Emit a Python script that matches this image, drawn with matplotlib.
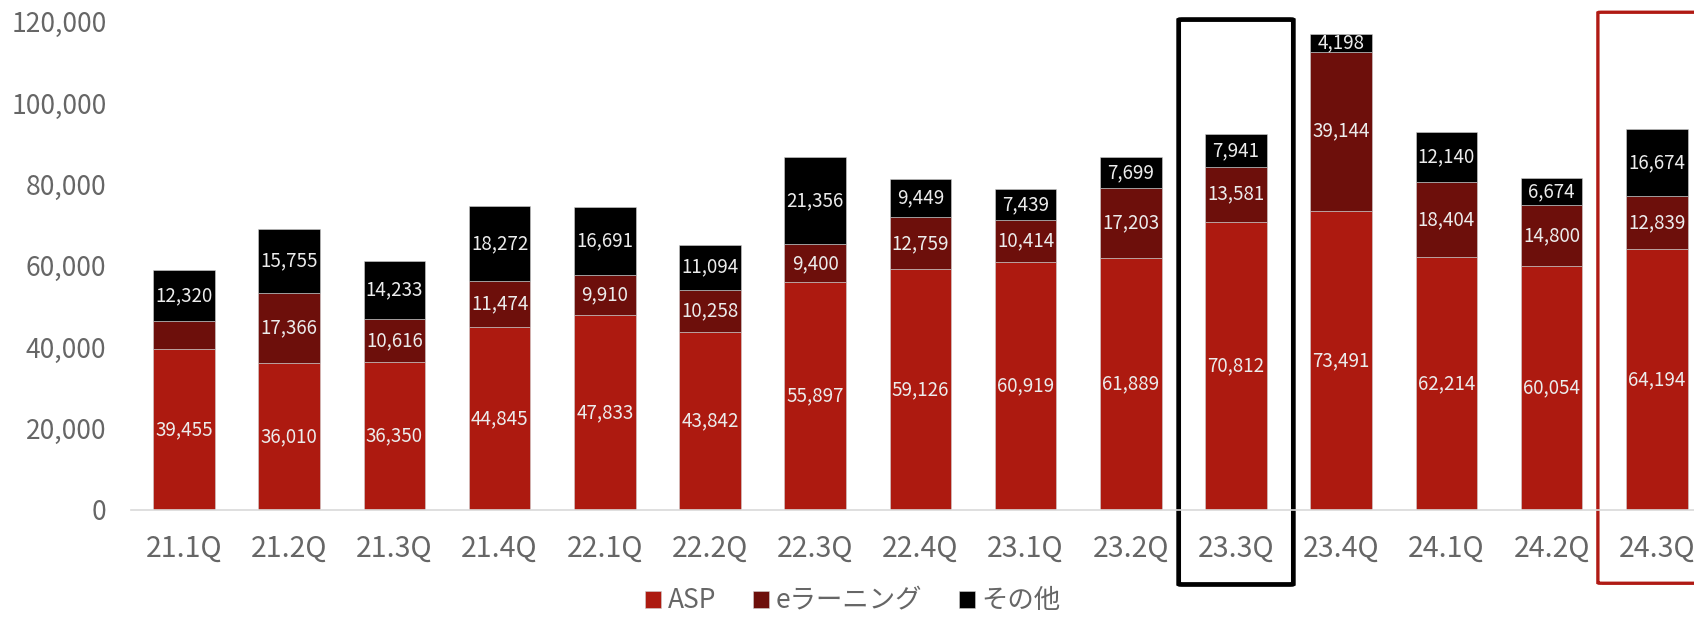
import matplotlib.pyplot as plt
from matplotlib.patches import FancyBboxPatch
from matplotlib.ticker import FuncFormatter
import numpy as np

plt.rcParams['font.family'] = ['Noto Sans CJK JP', 'DejaVu Sans']

quarters = ["21.1Q", "21.2Q", "21.3Q", "21.4Q", "22.1Q", "22.2Q", "22.3Q", "22.4Q",
            "23.1Q", "23.2Q", "23.3Q", "23.4Q", "24.1Q", "24.2Q", "24.3Q"]
asp = [39455, 36010, 36350, 44845, 47833, 43842, 55897, 59126,
       60919, 61889, 70812, 73491, 62214, 60054, 64194]
elearning = [7100, 17366, 10616, 11474, 9910, 10258, 9400, 12759,
             10414, 17203, 13581, 39144, 18404, 14800, 12839]
other = [12320, 15755, 14233, 18272, 16691, 11094, 21356, 9449,
         7439, 7699, 7941, 4198, 12140, 6674, 16674]
# the first e-learning segment carries no value label
elearning_show = [False] + [True] * 14

series = [("ASP", asp, "#ad1a10", [True] * 15),
          ("eラーニング", elearning, "#6d0f0b", elearning_show),
          ("その他", other, "#000000", [True] * 15)]

W, H = 1694, 617
fig = plt.figure(figsize=(W / 100, H / 100), dpi=100)
ax = fig.add_axes([131.4 / W, 1 - 510 / H, 15 * 105.2 / W, (510 - 21.6) / H])

x = np.arange(len(quarters))
bottom = np.zeros(len(quarters))
handles = []
for name, vals, color, show in series:
    vals = np.array(vals, dtype=float)
    bars = ax.bar(x, vals, 0.585, bottom=bottom, color=color,
                  edgecolor="#cfcfcf", linewidth=0.4, label=name)
    handles.append(bars)
    for xi, b, v, s in zip(x, bottom, vals, show):
        if s:
            ax.text(xi, b + v / 2, f"{int(v):,}", ha="center", va="center",
                    fontsize=13.5, color="#ececec")
    bottom += vals

ax.set_xlim(-0.5, 14.5)
ax.set_ylim(0, 120000)
ax.set_yticks(np.arange(0, 120001, 20000))
ax.yaxis.set_major_formatter(FuncFormatter(lambda v, p: f"{int(v):,}"))
ax.set_xticks(x)
ax.set_xticklabels(quarters)
ax.tick_params(axis="both", length=0, labelcolor="#666666")
ax.tick_params(axis="x", pad=17, labelsize=20.5)
ax.tick_params(axis="y", pad=18, labelsize=19)
for sp in ["top", "right", "left"]:
    ax.spines[sp].set_visible(False)
ax.spines["bottom"].set_color("#d9d9d9")
ax.spines["bottom"].set_linewidth(1.2)

# highlight frames around 23.3Q and 24.3Q
ax.add_patch(FancyBboxPatch((10 - 0.545, -18300), 1.09, 138800,
                            boxstyle="round,pad=0,rounding_size=0.03",
                            mutation_aspect=4000, fill=False,
                            edgecolor="black", linewidth=3.4, clip_on=False))
ax.add_patch(FancyBboxPatch((14 - 0.56, -18000), 1.2, 140300,
                            boxstyle="round,pad=0,rounding_size=0.03",
                            mutation_aspect=4000, fill=False,
                            edgecolor="#b01a14", linewidth=2.4, clip_on=False))

fig.legend(handles=handles, loc="center", bbox_to_anchor=(853 / W, 1 - 601 / H),
           ncol=3, frameon=False, fontsize=19, labelcolor="#666666",
           handlelength=0.6, handleheight=0.6, handletextpad=0.25,
           columnspacing=1.4, borderpad=0)

fig.savefig("out.png", dpi=100)
